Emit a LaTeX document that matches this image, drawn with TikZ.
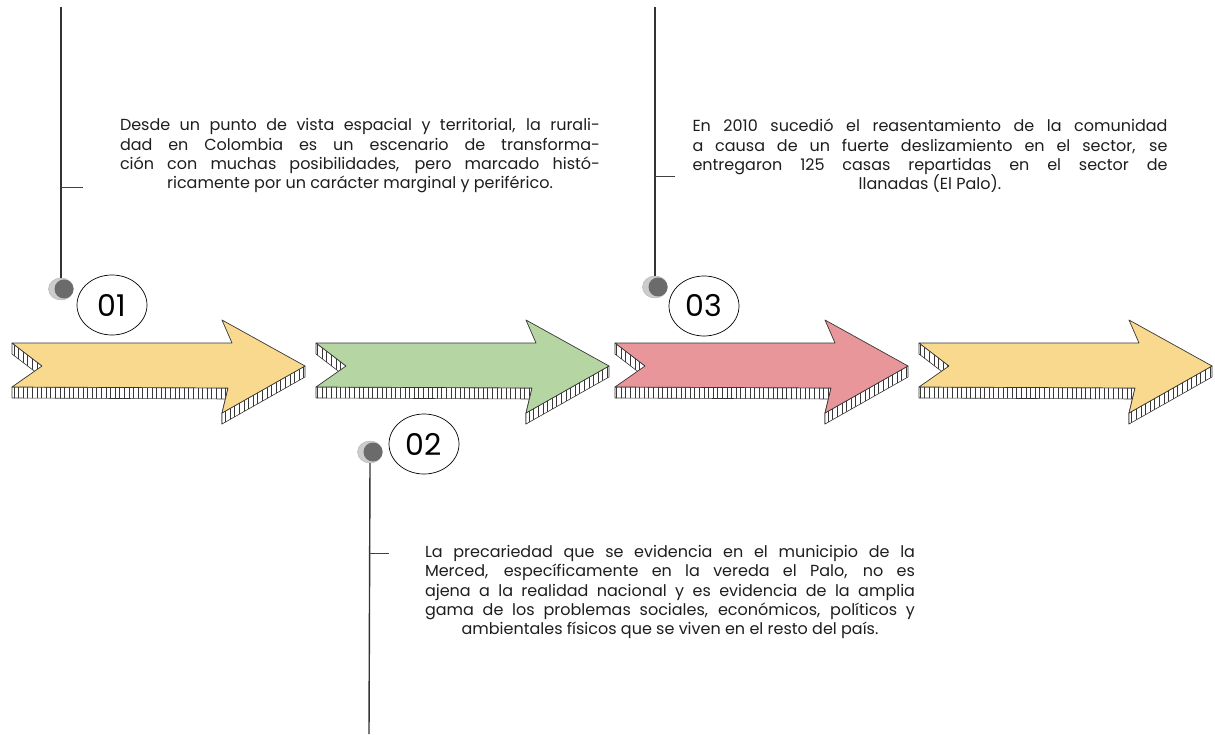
\documentclass[tikz,border=0pt]{standalone}
\usepackage{fontspec}
\setmainfont{Poppins}
\usetikzlibrary{shapes.geometric,patterns.meta}
\definecolor{ayellow}{RGB}{249,217,142}
\definecolor{agreen}{RGB}{181,214,163}
\definecolor{ared}{RGB}{232,150,153}
\definecolor{edgec}{RGB}{55,55,55}
\definecolor{txt}{RGB}{30,30,30}
\newcommand\jl[2]{\makebox[#1][s]{#2}}
\newcommand\tlarrow[2]{%
\begin{scope}[shift={(#1,0)}]
 \path[side] (0,343) -- (30,366) -- (30,377) -- (0,354) -- cycle;
 \path[side] (0,387) -- (216,388) -- (216,399) -- (0,398) -- cycle;
 \path[side] (216,388) -- (210,413) -- (210,424) -- (216,399) -- cycle;
 \path[side] (210,413) -- (293,366) -- (293,377) -- (210,424) -- cycle;
 \path[topface, fill=#2] (0,343) -- (30,366) -- (0,387) -- (216,388) -- (210,413) -- (293,366) -- (210,320) -- (220,343) -- cycle;
\end{scope}}
\tikzset{
 side/.style={draw=edgec, line width=0.6pt, line join=round, preaction={fill=white}, pattern={Lines[angle=90,distance=4.6pt,line width=0.5pt]}, pattern color=edgec},
 topface/.style={draw=edgec, line width=0.7pt, line join=round},
 numbox/.style={ellipse, draw=black, line width=0.7pt, fill=white, minimum width=70pt, minimum height=60pt, inner sep=0pt, font=\fontsize{30}{30}\selectfont},
 dotnode/.style={ellipse, minimum width=25pt, minimum height=22pt, inner sep=0pt, fill=gray!40, draw=gray!60},
 dotcore/.style={fill=black!58},
 stem/.style={draw=black!80, line width=1.4pt},
 tick/.style={draw=black!75, line width=1pt},
 body/.style={text=txt, font=\fontsize{16}{19.3}\selectfont, align=center, inner sep=0pt},
}
\begin{document}
\begin{tikzpicture}[x=1pt,y=-1pt]
\useasboundingbox (0,0) rectangle (1215,735);
\fill[white] (0,0) rectangle (1215,735);
% arrows
\tlarrow{12}{ayellow}
\tlarrow{316}{agreen}
\tlarrow{615}{ared}
\tlarrow{919}{ayellow}
% dots
\node[dotnode] (d1) at (61,289) {};
\fill[dotcore] (64,289) circle (9.5pt);
\node[dotnode] (d3) at (655,287) {};
\fill[dotcore] (658,287) circle (9.5pt);
\node[dotnode] (d2) at (370,452) {};
\fill[dotcore] (373,452) circle (9.5pt);
% stems
\coordinate (s1) at (61,7);
\coordinate (s3) at (655,7);
\coordinate (s2) at (369,734);
\draw[stem] (s1) -- (d1.north);
\draw[stem] (s3) -- (d3.north);
\draw[stem] (s2) -- (d2.south);
\coordinate (k1) at (61,188);
\coordinate (k3) at (655,177);
\coordinate (k2) at (369,553);
\draw[tick] (k1) -- ++(22,0);
\draw[tick] (k3) -- ++(20,0);
\draw[tick] (k2) -- ++(20,0);
% number ellipses
\node[numbox] (n1) at (112,305) {01};
\node[numbox] (n2) at (424,444) {02};
\node[numbox] (n3) at (704,306) {03};
% texts
\node[body] (t1) at (360,156) {\jl{480pt}{Desde un punto de vista espacial y territorial, la rurali-}\\
\jl{480pt}{dad en Colombia es un escenario de transforma-}\\
\jl{480pt}{ción con muchas posibilidades, pero marcado histó-}\\
ricamente por un carácter marginal y periférico.};
\node[body] (t3) at (930,156) {\jl{475pt}{En 2010 sucedió el reasentamiento de la comunidad}\\
\jl{475pt}{a causa de un fuerte deslizamiento en el sector, se}\\
\jl{475pt}{entregaron 125 casas repartidas en el sector de}\\
llanadas (El Palo).};
\node[body] (t2) at (670,592) {\jl{490pt}{La precariedad que se evidencia en el municipio de la}\\
\jl{490pt}{Merced, específicamente en la vereda el Palo, no es}\\
\jl{490pt}{ajena a la realidad nacional y es evidencia de la amplia}\\
\jl{490pt}{gama de los problemas sociales, económicos, políticos y}\\
ambientales físicos que se viven en el resto del país.};
\end{tikzpicture}
\end{document}
